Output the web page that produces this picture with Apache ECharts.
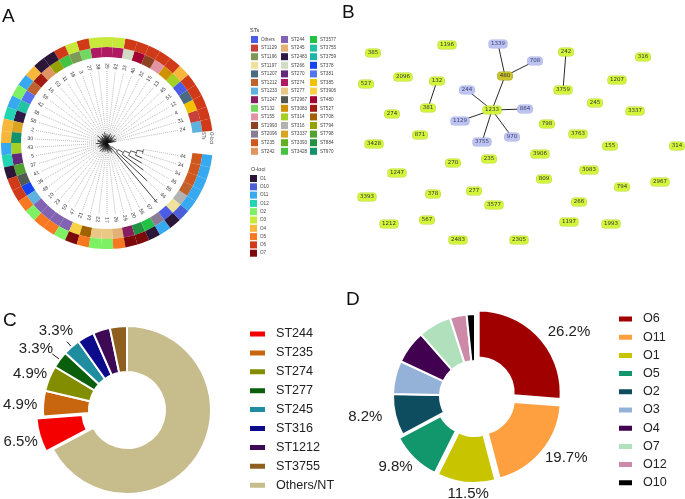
<!DOCTYPE html>
<html><head><meta charset="utf-8">
<script src="https://cdn.jsdelivr.net/npm/echarts@6/dist/echarts.min.js"></script>
<style>html,body{margin:0;padding:0;background:#fff}#c{width:685px;height:499px}</style>
</head><body><div id="c"></div>
<script>
const FONT = '"Liberation Sans", Arial, Helvetica, sans-serif';

// ---------------- Panel A data ----------------
const leafLabels = ['24','31','4','12','51','45','13','15','32','40','33','62','25','39','27','3','18','11','53','16','59','42','38','58','2','30','43','5','37','41','36','48','10','23','50','47','21','14','22','17','26','29','20','56','57','1','46','55','35','54','34','44'];
const leafST = ['ST1233','ST1129','ST385','ST1207','Others','ST314','ST3083','ST155','ST1993','ST480','ST266','ST274','ST274','ST274','ST132','ST1196','ST3428','ST794','ST242','ST527','ST1212','ST381','ST3755','ST2483','ST3337','ST970','ST314','ST270','ST798','ST2967','ST378','ST1233','ST244','ST244','ST244','ST244','ST3906','ST708','ST277','ST277','ST245','ST1247','ST884','ST3577','ST2096','Others','ST1197','ST316','ST1212','ST235','ST235','ST235'];
const leafO = ['O6','O6','O6','O6','O6','O4','O6','O6','O6','O6','O6','O3','O3','O3','O6','O3','O6','O1','O1','O4','O11','O2','O11','O12','O4','O4','O11','O12','O1','O6','O6','O5','O2','O5','O5','O2','O7','O5','O2','O2','O5','O7','O7','O1','O11','O1','O10','O11','O11','O11','O11','O11'];
// branch end (depth) and branch start (parent depth) of each leaf
const leafDepth = [9,7,10,6,8,11,7,9,5,10,8,6,9,7,11,8,10,6,9,7,12,8,6,10,9,7,11,5,8,10,7,9,6,11,8,10,7,9,6,8,10,7,9,11,8,78,55,45,40,38,37,37];
const leafBase  = [0,0,0,0,0,0,0,0,0,0,0,0,0,0,0,0,0,0,0,0,0,0,0,0,0,0,0,0,0,0,0,0,0,0,0,0,0,0,0,0,0,0,0,0,0,6,13,19,25,31,37,37];
// internal nodes of the long-branch clade: [id, depth, parentDepth, childA, childB]
const cladeNodes = [['n1',6,0,45,'n2'],['n2',13,6,46,'n3'],['n3',19,13,47,'n4'],['n4',25,19,48,'n5'],['n5',31,25,49,'n6'],['n6',37,31,50,51]];

const stNames = ['Others','ST1129','ST1196','ST1197','ST1207','ST1212','ST1233','ST1247','ST132','ST155','ST1993','ST2096','ST235','ST242','ST244','ST245','ST2483','ST266','ST270','ST274','ST277','ST2967','ST3083','ST314','ST316','ST3337','ST3393','ST3428','ST3577','ST3755','ST3759','ST378','ST381','ST385','ST3906','ST480','ST527','ST708','ST794','ST798','ST884','ST970'];
const stColors = ['#4b5ce6','#c8403a','#7c9a55','#f0e29a','#4a6a82','#c0622e','#5eb2e0','#8a1c62','#72d862','#e294a4','#8e4224','#8a7c94','#d0581e','#e09462','#8262b2','#e2b274','#2e1846','#d2dcc4','#62287a','#b01a62','#e8c884','#525a52','#d09200','#a2d024','#b2b2b2','#d8a422','#62b022','#44c244','#22c244','#22c2a2','#1fb4a8','#1444f0','#5474f2','#f2c200','#f8d244','#a20032','#a21a12','#a26200','#92a200','#52a232','#229242','#12926a'];
const oNames = ['O1','O10','O11','O12','O2','O3','O4','O5','O6','O7'];
const oColors = ['#2c1638','#4a5ed8','#36a9f0','#22d4b2','#7ef064','#c8e83a','#f8b63a','#f87822','#d03a18','#7c0a0a'];

// ---------------- Panel B data ----------------
const bNodes = ['385','1196','1339','708','242','316','527','2096','132','480','1207','3759','244','381','274','1233','884','245','3337','1129','798','871','970','3763','3428','3755','155','314','3906','235','270','1247','3083','809','2967','794','3393','378','277','3577','266','1212','567','1197','1993','2483','2305'];
const bX = [33,107,158,195,226,303,26,63,97,165,277,223,127,88,52,152,185,255,295,120,207,80,172,238,34,142,270,337,200,149,113,57,249,204,320,282,27,93,134,154,239,49,87,229,271,118,179];
const bY = [53,45,44,61,52,57,84,77,81,76,80,90,90,108,114,110,109,103,111,121,124,135,137,134,144,142,146,146,154,159,163,173,170,179,182,187,197,194,191,205,202,224,220,222,224,240,240];
const bGroup = ['g','g','b','b','g','g','g','g','g','f','g','g','b','g','g','g','b','g','g','b','g','g','b','g','g','b','g','g','g','g','g','g','g','g','g','g','g','g','g','g','g','g','g','g','g','g','g'];
const bEdges = [['1339','480'],['708','480'],['480','1233'],['244','1233'],['884','1233'],['1129','1233'],['3755','1233'],['970','1233'],['242','3759'],['132','381']];

// ---------------- Panel C data ----------------
const cCats = ['Others/NT','ST244','ST235','ST274','ST277','ST245','ST316','ST1212','ST3755'];
const cValues = [41,4,3,3,2,2,2,2,2];
const cColors = ['#c7bc8c','#f40000','#c8650f','#838d00','#0b5e0b','#1f8ca0','#0b0b8c','#3e0a56','#8f5f1f'];
const cLegend = ['ST244','ST235','ST274','ST277','ST245','ST316','ST1212','ST3755','Others/NT'];

// ---------------- Panel D data ----------------
const dCats = ['O6','O11','O1','O5','O2','O3','O4','O7','O12','O10'];
const dValues = [16,12,7,6,5,4,4,4,2,1];
const dColors = ['#a00000','#ffa040','#c8c400','#12966c','#0e4d5f','#94b2d8','#410050','#b0e0bc','#cc8aa8','#000000'];

// ---------------- build ----------------
const chart = echarts.init(document.getElementById('c'));
const stColorOf = n => stColors[stNames.indexOf(n)];
const oColorOf = n => oColors[oNames.indexOf(n)];
const angleCats = leafLabels.concat(['gapA','gapB']);
const SPOKE_END = 72, LABEL_R = 74;
// label nudges (px) and leader lengths for the pie percentage labels
const cShift = {1:[4,5.5], 2:[0,2], 3:[3.6,-3], 4:[2.8,-4.9], 5:[8.1,-10.7]};
const cLead = {4:9.5, 5:7};
const dShift = {0:[-2,0], 1:[-8,1], 2:[8,3], 3:[9,3]};

const angleAxisBase = {type:'category', data:angleCats, startAngle:6.7, clockwise:false, boundaryGap:true,
  axisLine:{show:false}, axisTick:{show:false}, axisLabel:{show:false}, splitLine:{show:false}};

function legendCol(names, left, top, gap){
  return {orient:'vertical', left:left, top:top, padding:0, itemWidth:7, itemHeight:7, itemGap:gap, icon:'rect',
    selectedMode:false, data:names, formatter:n=>n.slice(2),
    textStyle:{fontSize:4.6, color:'#444', fontFamily:FONT, padding:[0,0,0,-2]}};
}
const letter = (t, l, tp) => ({text:t, left:l, top:tp, padding:0, textStyle:{fontSize:19, fontWeight:'normal', color:'#111', fontFamily:FONT}});

const option = {
  animation:false,
  backgroundColor:'#fff',
  title:[
    letter('A', 2, 7), letter('B', 342, 3), letter('C', 3, 311), letter('D', 346, 290),
    {text:'STs', left:250, top:27, padding:0, textStyle:{fontSize:5.5, fontWeight:'normal', color:'#333', fontFamily:FONT}},
    {text:'O-loci', left:251, top:166, padding:0, textStyle:{fontSize:5.5, fontWeight:'normal', color:'#333', fontFamily:FONT}}
  ],
  graphic:[
    {type:'text', x:203, y:132, rotation:-Math.PI/2, style:{text:'STs', fontSize:4.5, fill:'#444', fontFamily:FONT, align:'left', verticalAlign:'middle'}},
    {type:'text', x:211, y:132, rotation:-Math.PI/2, style:{text:'O-loci', fontSize:4.5, fill:'#444', fontFamily:FONT, align:'left', verticalAlign:'middle'}}
  ],
  legend:[
    legendCol(stNames.slice(0,14).map(n=>'A:'+n), 251, 36, 1.6),
    legendCol(stNames.slice(14,28).map(n=>'A:'+n), 281, 36, 1.6),
    legendCol(stNames.slice(28,42).map(n=>'A:'+n), 310, 36, 1.6),
    legendCol(oNames.map(n=>'A:'+n), 250, 175, 1.3),
    {orient:'vertical', left:248, top:327.5, padding:0, itemWidth:17, itemHeight:7, itemGap:5.9, icon:'rect', selectedMode:false,
      data:cLegend, textStyle:{fontSize:12.6, color:'#222', fontFamily:FONT, padding:[0,0,0,5]}},
    {orient:'vertical', left:617, top:312.5, padding:0, itemWidth:15, itemHeight:7, itemGap:5.2, icon:'rect', selectedMode:false,
      data:dCats, textStyle:{fontSize:12.6, color:'#222', fontFamily:FONT, padding:[0,0,0,5]}}
  ],
  polar:[{center:[107,143], radius:[86,106]}, {center:[107,143], radius:[0,106]}],
  angleAxis:[Object.assign({polarIndex:0}, angleAxisBase), Object.assign({polarIndex:1}, angleAxisBase)],
  radiusAxis:[
    {polarIndex:0, type:'value', min:0, max:2, show:false, splitLine:{show:false}, axisLine:{show:false}},
    {polarIndex:1, type:'value', min:0, max:106, show:false, splitLine:{show:false}, axisLine:{show:false}}
  ],
  grid:{left:340, top:0, width:345, height:260},
  xAxis:{type:'value', min:0, max:345, show:false},
  yAxis:{type:'value', min:0, max:260, inverse:true, show:false},
  series:[
    // rings
    {type:'bar', coordinateSystem:'polar', polarIndex:0, stack:'ring', barCategoryGap:'0%', silent:true,
      data: leafST.map(s=>({value:1, itemStyle:{color:stColorOf(s)}}))},
    {type:'bar', coordinateSystem:'polar', polarIndex:0, stack:'ring', barCategoryGap:'0%', silent:true,
      data: leafO.map(s=>({value:1, itemStyle:{color:oColorOf(s)}}))},
    // leaves: branches, dotted spokes, labels
    {type:'custom', coordinateSystem:'polar', polarIndex:1, silent:true,
      data: leafLabels.map((n,i)=>[leafDepth[i], i]),
      renderItem:function(params, api){
        const i = params.dataIndex;
        const pb = api.coord([leafBase[i], i]);
        const pd = api.coord([leafDepth[i], i]);
        const pe = api.coord([SPOKE_END, i]);
        const pl = api.coord([LABEL_R, i]);
        const a = pl[3];
        const right = Math.cos(a) >= 0;
        const ch = [];
        if (leafDepth[i] < SPOKE_END) ch.push({type:'line', shape:{x1:pd[0],y1:pd[1],x2:pe[0],y2:pe[1]}, style:{stroke:'#8c8c8c', lineWidth:0.6, lineDash:[1,1]}});
        ch.push({type:'line', shape:{x1:pb[0],y1:pb[1],x2:pd[0],y2:pd[1]}, style:{stroke:'#111', lineWidth:0.8}});
        ch.push({type:'text', x:pl[0], y:pl[1], rotation: right ? a : a - Math.PI,
          style:{text:leafLabels[i], fontSize:5.2, fill:'#333', fontFamily:FONT, align: right ? 'left':'right', verticalAlign:'middle'}});
        return {type:'group', children:ch};
      }},
    // internal nodes of the clade
    {type:'custom', coordinateSystem:'polar', polarIndex:1, silent:true,
      data: cladeNodes.map(n=>[n[1], 0]),
      renderItem:function(params, api){
        const cs = params.coordSys;
        const cx = cs.cx, cy = cs.cy;
        const ang = {};
        const angleOf = c => typeof c === 'number' ? api.coord([0, c])[3] : ang[c];
        for (let k = cladeNodes.length - 1; k >= 0; k--) {
          const n = cladeNodes[k];
          ang[n[0]] = (angleOf(n[3]) + angleOf(n[4])) / 2;
        }
        const n = cladeNodes[params.dataIndex];
        const r = api.coord([n[1], 0])[2], rp = api.coord([n[2], 0])[2];
        const a1 = angleOf(n[3]), a2 = angleOf(n[4]), am = ang[n[0]];
        const pts = [];
        for (let s = 0; s <= 10; s++) { const a = a1 + (a2 - a1) * s / 10; pts.push([cx + r*Math.cos(a), cy - r*Math.sin(a)]); }
        return {type:'group', children:[
          {type:'polyline', shape:{points:pts}, style:{stroke:'#111', lineWidth:0.7, fill:null}},
          {type:'line', shape:{x1:cx + rp*Math.cos(am), y1:cy - rp*Math.sin(am), x2:cx + r*Math.cos(am), y2:cy - r*Math.sin(am)}, style:{stroke:'#111', lineWidth:0.7}}
        ]};
      }},
    // hidden pie providing panel A legend entries
    {type:'pie', center:[-3000,-3000], radius:[0,1], silent:true, label:{show:false}, labelLine:{show:false},
      data: stNames.map((n,k)=>({name:'A:'+n, value:1, itemStyle:{color:stColors[k]}}))
        .concat(oNames.map((n,k)=>({name:'A:'+n, value:1, itemStyle:{color:oColors[k]}})))},
    // panel B network
    {type:'graph', coordinateSystem:'cartesian2d', xAxisIndex:0, yAxisIndex:0, layout:'none', roam:false, silent:true,
      symbol:'circle', symbolSize:2,
      data: bNodes.map((n,k)=>{
        const bg = bGroup[k]==='b' ? '#bcc3f0' : (bGroup[k]==='f' ? '#c9c42b' : '#d2f53c');
        const bd = bGroup[k]==='b' ? '#a9b1e6' : (bGroup[k]==='f' ? '#a8a420' : '#b9dc2c');
        return {name:n, value:[bX[k], bY[k]], itemStyle:{color:bg},
          label:{show:true, position:'inside', formatter:n, fontSize:5.5, fontFamily:'"DejaVu Sans", Verdana, sans-serif',
            color: bGroup[k]==='b' ? '#3a3f6a' : '#333', backgroundColor:bg, borderColor:bd, borderWidth:0.6, borderRadius:3, padding:[1,2,1,2]}};
      }),
      links: bEdges.map(e=>({source:e[0], target:e[1]})),
      lineStyle:{color:'#2a2a2a', width:1, opacity:1, curveness:0}},
    // panel C
    {type:'pie', center:[127,410], radius:[38,84], startAngle:90, clockwise:true, selectedMode:'multiple', selectedOffset:7,
      percentPrecision:1, avoidLabelOverlap:false, silent:true,
      itemStyle:{borderColor:'#fff', borderWidth:2},
      label:{show:false, position:'outside', formatter:'{d}%', fontSize:15, color:'#222', fontFamily:FONT, distanceToLabelLine:2},
      labelLine:{show:false, length:4, length2:0, lineStyle:{color:'#222', width:1}},
      labelLayout:function(p){ const s = cShift[p.dataIndex] || [0,0]; return {dx:s[0], dy:s[1], hideOverlap:false, moveOverlap:false}; },
      data: cCats.map((n,k)=>{
        const it = {name:n, value:cValues[k], itemStyle:{color:cColors[k]}};
        if (k===1) it.selected = true;
        if (k>=1 && k<=5) it.label = {show:true};
        if (cLead[k]) it.labelLine = {show:true, length:cLead[k], length2:0};
        return it;
      })},
    // panel D
    {type:'pie', center:[475,396], radius:[35,82], startAngle:90, clockwise:true, selectedMode:'multiple', selectedOffset:5,
      percentPrecision:1, avoidLabelOverlap:false, silent:true,
      itemStyle:{borderColor:'#fff', borderWidth:2},
      label:{show:false, position:'outside', formatter:'{d}%', fontSize:15, color:'#222', fontFamily:FONT},
      labelLine:{show:false, length:8, length2:0},
      labelLayout:function(p){ const s = dShift[p.dataIndex] || [0,0]; const o = {dx:s[0], dy:s[1], hideOverlap:false, moveOverlap:false}; if (p.dataIndex===2) o.align='center'; return o; },
      data: dCats.map((n,k)=>{
        const it = {name:n, value:dValues[k], itemStyle:{color:dColors[k]}};
        if (k<=3) it.selected = true;
        if (k<=4) it.label = {show:true};
        return it;
      })}
  ]
};
chart.setOption(option);
</script>
</body></html>
